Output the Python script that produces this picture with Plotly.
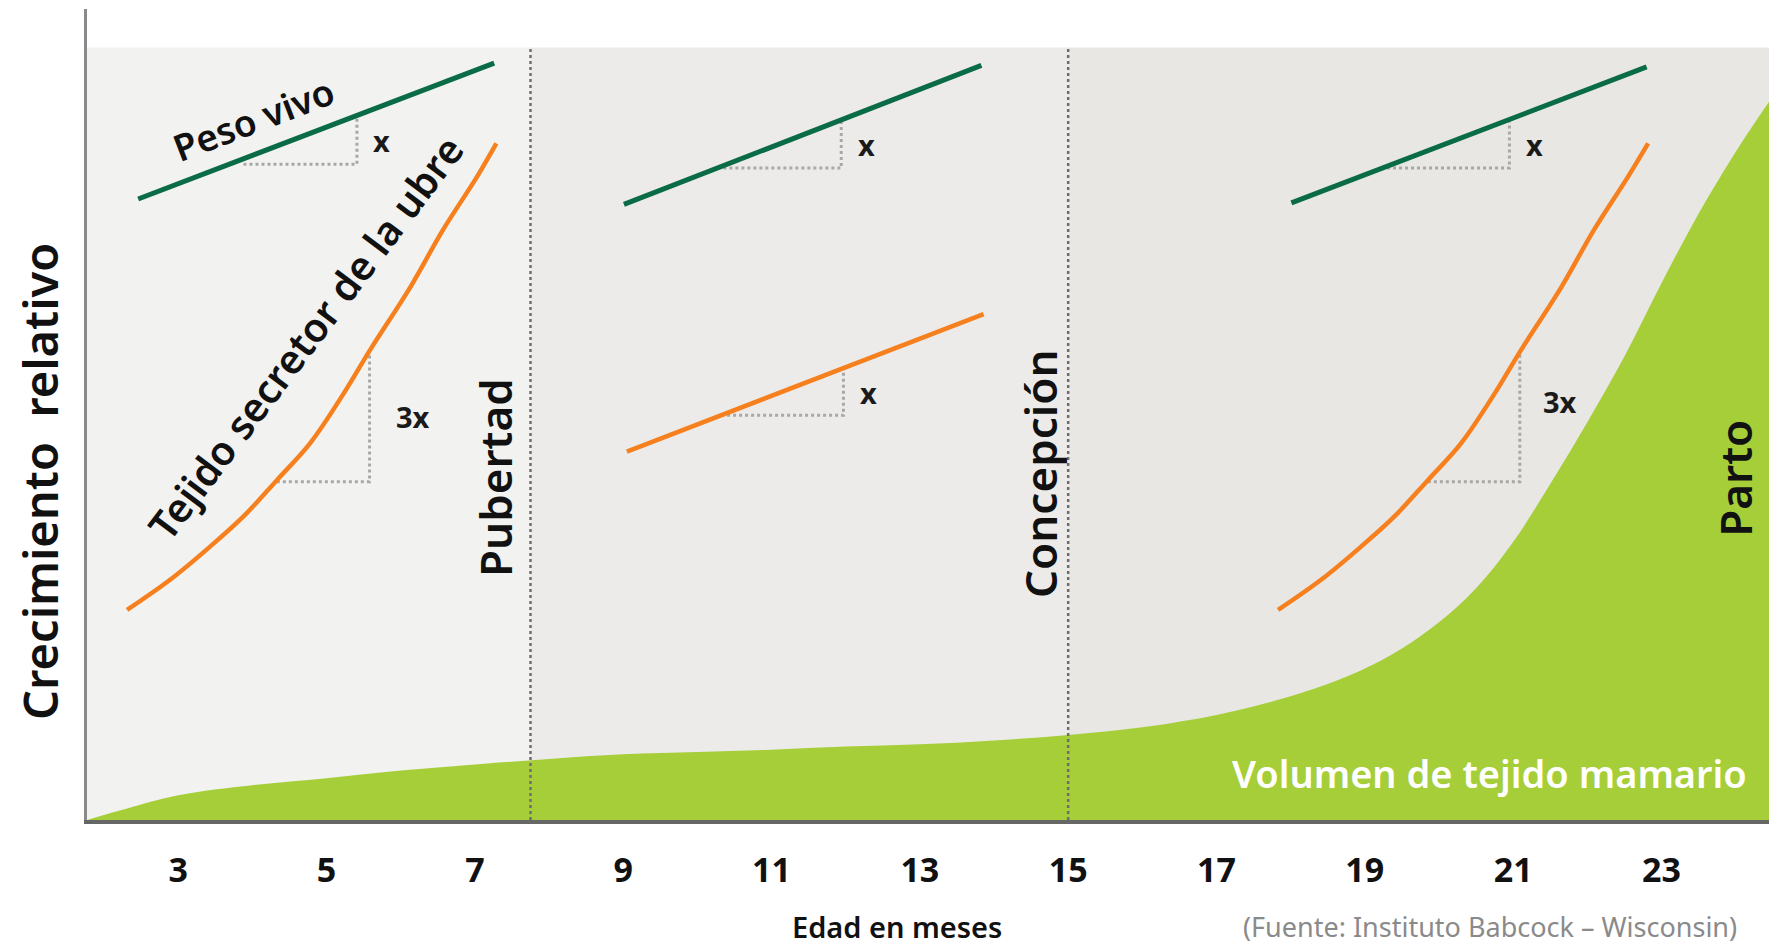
import plotly.graph_objects as go

# ---------------- data ----------------
tick_months = [3, 5, 7, 9, 11, 13, 15, 17, 19, 21, 23]
x_range = [1.77, 24.45]
y_range = [0, 105]

stage_bounds = [1.77, 7.75, 15.0, 24.45]
stage_top = 100
stage_colors = ["#F2F2F0", "#ECEBE9", "#E8E7E4"]

events_x = [7.75, 15.0]

vol_x = [1.77, 2.2, 3, 4, 5, 6, 7, 8, 9, 10, 11, 12, 13, 14, 15, 16, 17, 17.7,
         18.5, 19, 19.5, 20, 20.5, 21, 21.5, 22, 22.5, 23, 23.5, 24, 24.45]
vol_y = [0, 1.2, 3.2, 4.5, 5.4, 6.4, 7.2, 7.9, 8.5, 8.8, 9.1, 9.5, 9.8, 10.3,
         11.0, 12.0, 13.6, 15.2, 17.6, 19.6, 22.2, 25.6, 30.0, 36.0, 43.5,
         51.5, 60.0, 69.5, 78.5, 86.5, 93.0]

peso1_x = [2.46, 7.26]
peso1_y = [80.4, 98.0]
peso2_x = [9.01, 13.83]
peso2_y = [79.7, 97.7]
peso3_x = [18.01, 22.80]
peso3_y = [79.9, 97.5]

ubre1_x = [2.31, 2.89, 3.43, 3.88, 4.33, 4.78, 5.23, 5.59, 6.13, 6.57, 7.03, 7.29]
ubre1_y = [27.2, 31.1, 35.4, 39.3, 44.0, 48.8, 55.2, 60.9, 69.0, 76.4, 83.3, 87.6]
ubre2_x = [9.05, 13.86]
ubre2_y = [47.7, 65.5]
ubre3_x = [17.83, 18.41, 18.95, 19.40, 19.85, 20.30, 20.75, 21.11, 21.65, 22.09, 22.55, 22.82]
ubre3_y = [27.2, 31.1, 35.4, 39.3, 44.0, 48.8, 55.2, 60.9, 69.0, 76.4, 83.3, 87.6]

tri_x = [[3.88, 5.41, 5.41], [10.27, 11.94, 11.94], [10.32, 11.97, 11.97],
         [19.30, 20.95, 20.95], [4.33, 5.58, 5.58], [19.85, 21.09, 21.09]]
tri_y = [[84.9, 84.9, 91.2], [84.4, 84.4, 90.6], [52.4, 52.4, 58.5],
         [84.4, 84.4, 90.7], [43.8, 43.8, 60.6], [43.8, 43.8, 60.6]]

rate_labels = ["x", "x", "x", "x", "3x", "3x"]
rate_x = [5.74, 12.28, 12.31, 21.29, 6.16, 21.63]
rate_y = [88.0, 87.4, 55.3, 87.4, 52.3, 54.2]

# ---------------- styles ----------------
GREEN_LINE = "#0A6B47"
ORANGE = "#F7801E"
FILL = "#A6CE39"
FONT = "Noto Sans"

fig = go.Figure()

# stage backgrounds
for i, c in enumerate(stage_colors):
    fig.add_shape(type="rect", xref="x", yref="y",
                  x0=stage_bounds[i], x1=stage_bounds[i + 1], y0=0, y1=stage_top,
                  fillcolor=c, line_width=0, layer="below")

# mammary volume
fig.add_trace(go.Scatter(x=vol_x, y=vol_y, mode="lines", fill="tozeroy",
                         fillcolor=FILL, line=dict(color=FILL, width=0, shape="spline"),
                         hoverinfo="skip"))

# event lines
for ex in events_x:
    fig.add_trace(go.Scatter(x=[ex, ex], y=[0, stage_top], mode="lines",
                             line=dict(color="#6E6E6E", width=2.5, dash="dot"),
                             hoverinfo="skip"))

# triangles
for tx, ty in zip(tri_x, tri_y):
    fig.add_trace(go.Scatter(x=tx, y=ty, mode="lines",
                             line=dict(color="#A8A8A8", width=3, dash="dot"),
                             hoverinfo="skip"))

# body weight lines
for px, py in [(peso1_x, peso1_y), (peso2_x, peso2_y), (peso3_x, peso3_y)]:
    fig.add_trace(go.Scatter(x=px, y=py, mode="lines",
                             line=dict(color=GREEN_LINE, width=5)))

# udder secretory tissue
for ux, uy in [(ubre1_x, ubre1_y), (ubre2_x, ubre2_y), (ubre3_x, ubre3_y)]:
    fig.add_trace(go.Scatter(x=ux, y=uy, mode="lines",
                             line=dict(color=ORANGE, width=4.5, shape="spline")))

# rate labels
for t, rx, ry in zip(rate_labels, rate_x, rate_y):
    fig.add_annotation(x=rx, y=ry, text=t, showarrow=False,
                       font=dict(family=FONT, size=29, color="#1a1a1a", weight=700))

txt = dict(family=FONT, color="#111111", weight=600)
fig.add_annotation(x=4.02, y=90.8, text="Peso vivo", textangle=-21, showarrow=False,
                   font=dict(**txt, size=37))
fig.add_annotation(x=4.71, y=62.5, text="Tejido secretor de la ubre", textangle=-53,
                   showarrow=False, font=dict(**txt, size=40))
fig.add_annotation(x=7.27, y=44.4, text="Pubertad", textangle=-90, showarrow=False,
                   font=dict(**txt, size=44))
fig.add_annotation(x=14.62, y=44.8, text="Concepción", textangle=-90, showarrow=False,
                   font=dict(**txt, size=44))
fig.add_annotation(x=23.99, y=44.3, text="Parto", textangle=-90, showarrow=False,
                   font=dict(**txt, size=44))
fig.add_annotation(x=20.68, y=6.1, text="Volumen de tejido mamario", showarrow=False,
                   font=dict(family=FONT, size=38, color="white", weight=600))

# axis titles / source
fig.add_annotation(xref="paper", yref="paper", x=0.4816, y=-0.131, xanchor="center",
                   yanchor="middle", text="Edad en meses", showarrow=False,
                   font=dict(family=FONT, size=29, color="#111111", weight=600))
fig.add_annotation(xref="paper", yref="paper", x=0.686, y=-0.131, xanchor="left",
                   yanchor="middle", text="(Fuente: Instituto Babcock – Wisconsin)",
                   showarrow=False, font=dict(family=FONT, size=27, color="#8A8A8A"))
fig.add_annotation(xref="paper", yref="paper", x=-0.028, y=0.418, textangle=-90,
                   xanchor="center", yanchor="middle",
                   text="Crecimiento  relativo", showarrow=False,
                   font=dict(family=FONT, size=47, color="#111111", weight=600))

fig.update_layout(
    width=1769, height=946,
    margin=dict(l=87, r=0, t=9, b=126, autoexpand=False),
    paper_bgcolor="white", plot_bgcolor="white",
    showlegend=False,
)
fig.update_xaxes(range=x_range, tickvals=tick_months, showgrid=False, zeroline=False,
                 showline=True, linecolor="#666666", linewidth=4,
                 ticks="outside", ticklen=17, tickcolor="rgba(0,0,0,0)",
                 tickfont=dict(family=FONT, size=34, color="#111111", weight=700))
fig.update_yaxes(range=y_range, showticklabels=False, showgrid=False, zeroline=False,
                 showline=True, linecolor="#8A8A8A", linewidth=3, ticks="")

fig.write_html("out.html", config={"displayModeBar": False},
               post_script="document.body.style.margin='0';"
                           "document.body.style.overflow='hidden';")
